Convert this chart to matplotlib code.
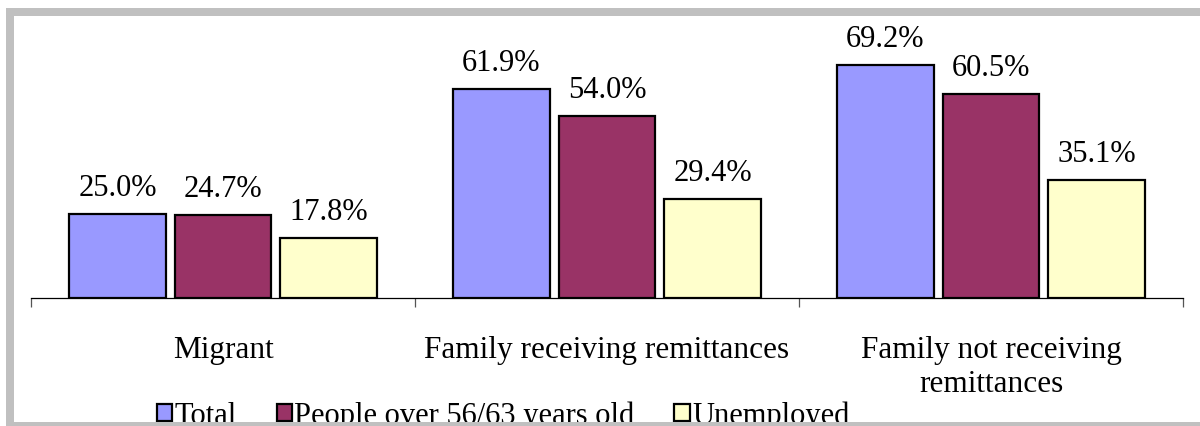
import matplotlib.pyplot as plt
import numpy as np
from matplotlib.patches import Rectangle

plt.rcParams["font.family"] = ["Liberation Serif", "DejaVu Serif"]

categories = ["Migrant", "Family receiving remittances", "Family not receiving\nremittances"]
series_names = ["Total", "People over 56/63 years old", "Unemployed"]
total = [25.0, 61.9, 69.2]
over_56_63 = [24.7, 54.0, 60.5]
unemployed = [17.8, 29.4, 35.1]

colors = ["#9999FF", "#993366", "#FFFFCC"]

W, H, DPI = 1200, 426, 100
fig = plt.figure(figsize=(W / DPI, H / DPI), dpi=DPI)
fig.patch.set_facecolor("white")

# plot area in pixels: x 31..1183, baseline at y=298, 3.37 px per percent
left, right, base = 31, 1183, 298
ymax = 80
top = base - ymax * 3.37
ax = fig.add_axes([left / W, (H - base) / H, (right - left) / W, (base - top) / H])

x = np.arange(len(categories))
width = 0.252
step = 0.275
fs = 22

for i, (vals, name, col) in enumerate(zip([total, over_56_63, unemployed], series_names, colors)):
    pos = x + (i - 1) * step
    bars = ax.bar(pos, vals, width, color=col, edgecolor="black", linewidth=1.6,
                  label=name, zorder=3)
    for b, v in zip(bars, vals):
        ax.annotate(f"{v:.1f}%", (b.get_x() + b.get_width() / 2, v),
                    xytext=(0, 13), textcoords="offset points",
                    ha="center", va="baseline", fontsize=fs, annotation_clip=False)

ax.set_xlim(-0.5, 2.5)
ax.set_ylim(0, ymax)

for s in ["top", "right", "left"]:
    ax.spines[s].set_visible(False)
ax.spines["bottom"].set_linewidth(0.9)
ax.set_yticks([])

# boundary ticks between categories, labels at category centres
ax.set_xticks(np.arange(-0.5, len(categories)), [""] * (len(categories) + 1))
ax.tick_params(axis="x", which="major", direction="out", length=6.5, width=0.9, color="#555555")
ax.set_xticks(x, categories, minor=True)
ax.tick_params(axis="x", which="minor", length=0, pad=27.5, labelsize=22.5)
for lab in ax.get_xticklabels(minor=True):
    lab.set_linespacing(1.2)

fig.legend(loc="center left", bbox_to_anchor=(157 / W, (H - 416) / H),
           ncol=3, frameon=False, fontsize=fs, borderpad=0, borderaxespad=0,
           handlelength=0.5, handleheight=0.47, handletextpad=0.08,
           columnspacing=1.3)

# grey chart frame drawn over everything
lw_px = 8
fig.add_artist(Rectangle((10 / W, 0), (1215 - 10) / W, (H - 12) / H,
                         transform=fig.transFigure, fill=False,
                         edgecolor="#c0c0c0", linewidth=lw_px * 72 / DPI, zorder=10))

fig.savefig("out.png", dpi=DPI, facecolor="white")
